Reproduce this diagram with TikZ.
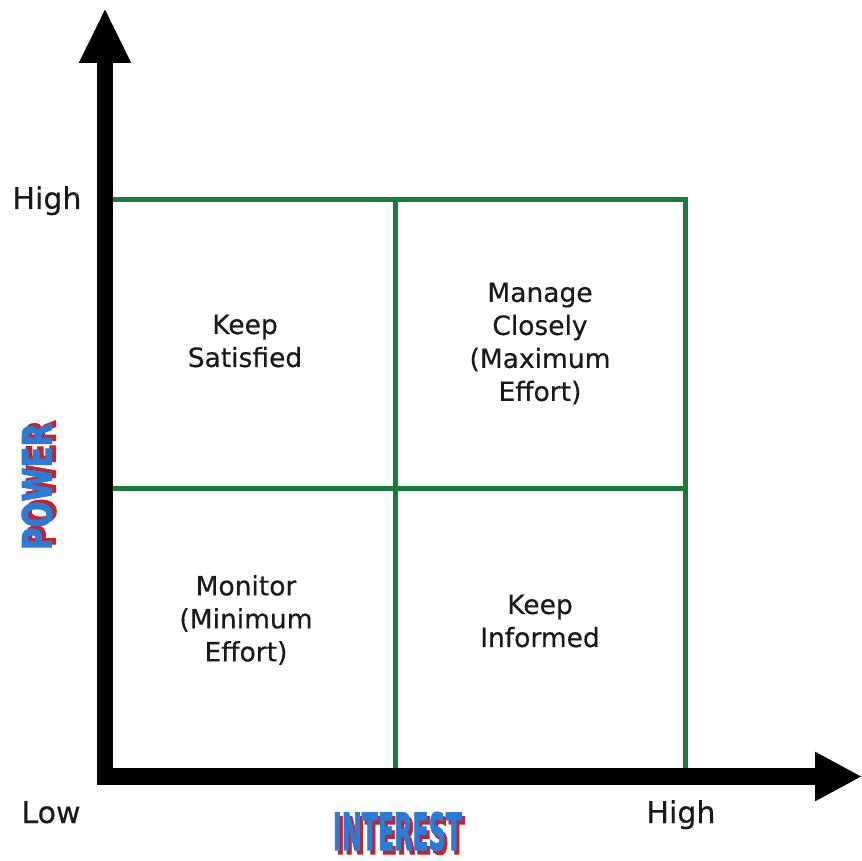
\documentclass[tikz,border=0pt]{standalone}
\usepackage{fontspec}
\setmainfont{DejaVu Sans}[UprightFeatures={FakeBold=0.4}]
\newfontfamily\heavyfont{DejaVu Sans}[BoldFeatures={FakeBold=2.5}]
\usetikzlibrary{arrows.meta}
\definecolor{gridgreen}{HTML}{1B7A3F}
\definecolor{lblblue}{HTML}{2B7BD8}
\definecolor{lblred}{HTML}{C0262E}
\definecolor{txtgrey}{HTML}{1A1A1A}
\newcommand{\axlabel}[1]{\fontsize{30pt}{36pt}\selectfont #1}
\newcommand{\celltext}{\fontsize{26.5pt}{33pt}\selectfont}
\newcommand{\powerword}{\resizebox{127pt}{30pt}{\heavyfont\bfseries POWER}}
\newcommand{\interestword}{\resizebox{129pt}{38pt}{\heavyfont\bfseries INTEREST}}
\tikzset{
  gridline/.style={draw=gridgreen, line width=5pt},
  axisline/.style={draw=black, line width=#1, line cap=butt},
  cell/.style={align=center, text=txtgrey, font=\celltext, inner sep=0pt},
  ticklbl/.style={text=txtgrey, inner sep=0pt, anchor=base},
  bigword/.style={inner sep=0pt, outer sep=0pt},
}
\begin{document}
\begin{tikzpicture}[x=1pt, y=-1pt]
\useasboundingbox[fill=white] (0,0) rectangle (862,861);
% grid coordinates
\coordinate (g00) at (113,200);
\coordinate (g10) at (395,200);
\coordinate (g20) at (685,200);
\coordinate (g01) at (113,488);
\coordinate (g21) at (685,488);
\coordinate (g12) at (395,768);
\coordinate (g22) at (685,768);
% green grid
\draw[gridline] (g00) -- (g20) -- (g22);
\draw[gridline] (g10) -- (g12);
\draw[gridline] (g01) -- (g21);
% axes
\coordinate (vbot) at (105,785);
\coordinate (vtop) at (105,8);
\coordinate (hleft) at (97,776.5);
\coordinate (hright) at (862,776.5);
\draw[axisline=16pt, -{Triangle[length=55pt, width=48pt]}] (vbot) -- (vtop);
\draw[axisline=17pt, -{Triangle[length=47pt, width=46pt]}] (hleft) -- (hright);
% axis tick labels
\node[ticklbl, font=\axlabel{}] (hiy) at (47,209) {High};
\node[ticklbl, font=\axlabel{}] (lowx) at (51,823) {Low};
\node[ticklbl, font=\axlabel{}] (hix) at (681,823) {High};
% cell texts
\node[cell] (ks) at (245,341) {Keep\\Satisfied};
\node[cell] (mc) at (540,343.5) {Manage\\Closely\\(Maximum\\Effort)};
\node[cell] (mo) at (246,620) {Monitor\\(Minimum\\Effort)};
\node[cell] (ki) at (540,621) {Keep\\Informed};
% axis titles with shadow
\node[bigword, text=lblred, anchor=north west] (ints) at (336,816) {\interestword};
\node[bigword, text=lblblue, anchor=north west] (int) at (333,812) {\interestword};
\node[bigword, text=lblred, rotate=90] (pows) at (41,483.5) {\powerword};
\node[bigword, text=lblblue, rotate=90] (pow) at (37,486.5) {\powerword};
\end{tikzpicture}
\end{document}
